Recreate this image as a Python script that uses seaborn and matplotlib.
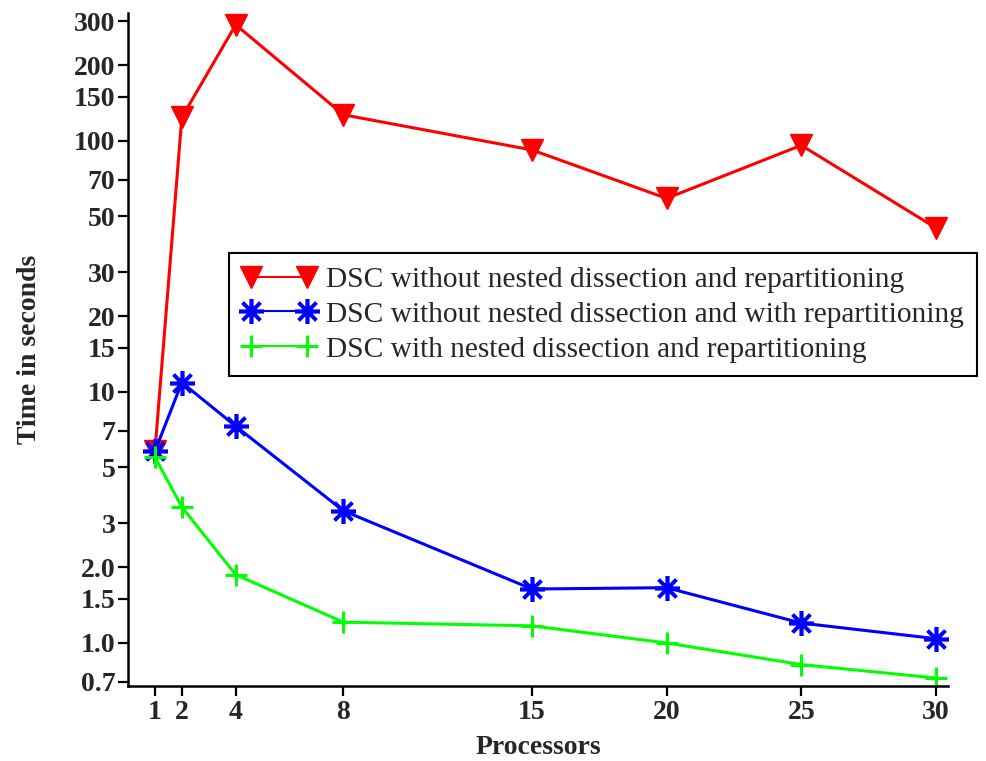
import numpy as np
import pandas as pd
import matplotlib
matplotlib.use("Agg")
import matplotlib.pyplot as plt
import seaborn as sns

# Processor counts and run times (seconds)
processors = [1, 2, 4, 8, 15, 20, 25, 30]
time_no_nd_no_repart = [5.8, 124, 290, 127, 92, 59, 96, 45]
time_no_nd_repart = [5.8, 10.9, 7.3, 3.36, 1.64, 1.66, 1.20, 1.04]
time_nd_repart = [5.5, 3.48, 1.87, 1.21, 1.17, 1.0, 0.82, 0.725]

series_names = [
    "DSC without nested dissection and repartitioning",
    "DSC without nested dissection and with repartitioning",
    "DSC with nested dissection and repartitioning",
]
series_values = [time_no_nd_no_repart, time_no_nd_repart, time_nd_repart]
series_colors = ["#ff0000", "#0000ff", "#00ff00"]

y_ticks = [0.7, 1.0, 1.5, 2.0, 3, 5, 7, 10, 15, 20, 30, 50, 70, 100, 150, 200, 300]
y_tick_labels = ["0.7", "1.0", "1.5", "2.0", "3", "5", "7", "10", "15", "20",
                 "30", "50", "70", "100", "150", "200", "300"]

df = pd.DataFrame({
    "Processors": np.tile(processors, len(series_names)),
    "Time": np.concatenate(series_values),
    "Method": np.repeat(series_names, len(processors)),
})

sns.set_style("ticks")
plt.rcParams["font.family"] = ["Liberation Serif", "DejaVu Serif"]

fig = plt.figure(figsize=(9.86, 7.61), dpi=100)
ax = fig.add_axes([0.1298, 0.0986, 0.8317, 0.8843])

marker_styles = ["v", (8, 2, 0), "+"]
marker_sizes = [16, 18, 16]
marker_edge = [1.0, 2.6, 2.2]

for name, color, mk, ms, mew in zip(series_names, series_colors,
                                    marker_styles, marker_sizes, marker_edge):
    sub = df[df["Method"] == name]
    sns.lineplot(data=sub, x="Processors", y="Time", ax=ax, color=color,
                 marker=mk, markersize=ms, markeredgewidth=mew,
                 markeredgecolor=color, markerfacecolor=color,
                 linewidth=2.2, label=name, estimator=None, sort=False)

ax.set_yscale("log")
ax.set_ylim(0.674, 323)
ax.set_xlim(0, 30.45)
ax.set_yticks(y_ticks)
ax.set_yticklabels(y_tick_labels)
ax.yaxis.set_minor_locator(matplotlib.ticker.NullLocator())
ax.set_xticks(processors)
ax.set_xticklabels([str(p) for p in processors])

for lab in ax.get_xticklabels() + ax.get_yticklabels():
    lab.set_fontweight("bold")
    lab.set_fontsize(20)

ax.tick_params(axis="both", direction="out", length=7, width=1.6,
               color="black")
ax.tick_params(axis="y", pad=2)
ax.tick_params(axis="x", pad=3)
sns.despine(ax=ax)
for side in ("left", "bottom"):
    ax.spines[side].set_linewidth(1.8)
    ax.spines[side].set_color("black")

ax.set_xlabel("Processors", fontsize=20, fontweight="bold", labelpad=7)
ax.set_ylabel("Time in seconds", fontsize=20, fontweight="bold", labelpad=23)

# Legend box sits over the middle of the plot and runs past the x-axis end
leg = ax.legend(loc="upper left", bbox_to_anchor=(229 / 986, 1 - 253 / 761),
                bbox_transform=fig.transFigure, fontsize=21.2, frameon=True,
                fancybox=False, framealpha=1, edgecolor="black",
                handlelength=2.5, handletextpad=0.35, borderpad=0.45,
                labelspacing=0.28, borderaxespad=0, numpoints=2)
leg.get_frame().set_linewidth(1.5)
for line in leg.get_lines():
    line.set_linewidth(1.5)

fig.savefig("out.png", dpi=100)
